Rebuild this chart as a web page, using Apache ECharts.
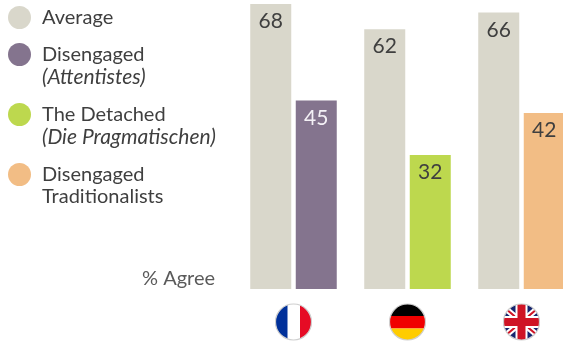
<!DOCTYPE html>
<html>
<head>
<meta charset="utf-8">
<style>html,body{margin:0;padding:0;background:#fff}#c{width:563px;height:341px}</style>
<script src="https://cdn.jsdelivr.net/npm/echarts@6/dist/echarts.min.js"></script>
</head>
<body>
<div id="c"></div>
<script>
const countries = ['France', 'Germany', 'UK'];
const average = [68, 62, 66];
const disengaged = [45, null, null];
const detached = [null, 32, null];
const traditionalists = [null, null, 42];

const FONT = 'Lato';
const INK = '#3f3f3f';
const COLORS = { average: '#d9d7cb', disengaged: '#84748e', detached: '#bdd84e', traditionalists: '#f2bd85' };

// Round flags, each wrapped in a thin grey ring
function flag(body) {
  const svg = '<svg xmlns="http://www.w3.org/2000/svg" width="38" height="38" viewBox="0 0 38 38">' +
    '<defs><clipPath id="k"><circle cx="19" cy="19" r="18"/></clipPath></defs>' +
    '<g clip-path="url(#k)">' + body + '</g>' +
    '<circle cx="19" cy="19" r="18" fill="none" stroke="#cfcfcf" stroke-width="1.2"/></svg>';
  return 'data:image/svg+xml;charset=utf-8,' + encodeURIComponent(svg);
}
const flagImages = {
  France: flag('<rect width="38" height="38" fill="#fff"/><rect width="13" height="38" fill="#00309a"/><rect x="25.5" width="12.5" height="38" fill="#e60b25"/>'),
  Germany: flag('<rect width="38" height="13" fill="#000"/><rect y="13" width="38" height="12.5" fill="#f00000"/><rect y="25.5" width="38" height="12.5" fill="#ffcc00"/>'),
  UK: flag('<rect width="38" height="38" fill="#16256e"/>' +
    '<path d="M0 3 L38 35 M38 3 L0 35" stroke="#fff" stroke-width="6"/>' +
    '<path d="M0 3 L38 35 M38 3 L0 35" stroke="#cf1425" stroke-width="2"/>' +
    '<rect x="13" width="12" height="38" fill="#fff"/><rect y="13" width="38" height="12" fill="#fff"/>' +
    '<rect x="15" width="8" height="38" fill="#cf1425"/><rect y="15" width="38" height="8" fill="#cf1425"/>')
};

const seriesNames = ['Average', 'Disengaged (Attentistes)', 'The Detached (Die Pragmatischen)', 'Disengaged Traditionalists'];
const legendLines = {
  'Average': ['Average', null],
  'Disengaged (Attentistes)': ['Disengaged', '(Attentistes)'],
  'The Detached (Die Pragmatischen)': ['The Detached', '(Die Pragmatischen)'],
  'Disengaged Traditionalists': ['Disengaged', 'Traditionalists']
};
const legendTops = [6, 43, 103, 163];
const secondLineCentres = [null, 77, 137, 197];

const legends = seriesNames.map((name, i) => ({
  data: [name], orient: 'vertical', left: 8, top: legendTops[i], padding: 0,
  icon: 'circle', itemWidth: 23, itemHeight: 23, selectedMode: false,
  formatter: n => legendLines[n][0],
  textStyle: { fontFamily: FONT, fontSize: 20, color: INK, padding: [0, 0, 0, 6] }
}));

const secondLines = seriesNames.map((name, i) => {
  const line = legendLines[name][1];
  if (!line) return null;
  const italic = line.startsWith('(');
  return {
    type: 'text', left: 42, top: secondLineCentres[i] - 12,
    style: { text: line, fontFamily: FONT, fontSize: italic ? 21 : 20, lineHeight: 24, fill: INK,
             fontStyle: italic ? 'italic' : 'normal' }
  };
}).filter(Boolean);

function barSeries(name, values, color, stack, labelColor) {
  return {
    name, type: 'bar', stack, data: values, barWidth: 41, barGap: '11%',
    itemStyle: { color },
    label: { show: true, position: 'insideTop', distance: 7, fontFamily: FONT, fontSize: 21, color: labelColor }
  };
}

const richFlags = {};
Object.keys(flagImages).forEach(k => {
  richFlags[k] = { width: 38, height: 38, backgroundColor: { image: flagImages[k] } };
});

const chart = echarts.init(document.getElementById('c'), null, { renderer: 'canvas' });
chart.setOption({
  animation: false,
  backgroundColor: '#fff',
  legend: legends,
  grid: { left: 236.5, top: 4, width: 342, height: 285, outerBoundsMode: 'none' },
  xAxis: {
    type: 'category', data: countries,
    axisLine: { show: false }, axisTick: { show: false },
    axisLabel: { margin: 14, interval: 0, hideOverlap: false, formatter: v => '{' + v + '|}', rich: richFlags }
  },
  yAxis: { type: 'value', min: 0, max: 68, show: false },
  series: [
    barSeries(seriesNames[0], average, COLORS.average, 'average', INK),
    barSeries(seriesNames[1], disengaged, COLORS.disengaged, 'segment', '#f4f1f6'),
    barSeries(seriesNames[2], detached, COLORS.detached, 'segment', INK),
    barSeries(seriesNames[3], traditionalists, COLORS.traditionalists, 'segment', INK)
  ],
  graphic: secondLines.concat([{
    type: 'text', left: 142, top: 267,
    style: { text: '% Agree', fontFamily: FONT, fontSize: 20, lineHeight: 24, fill: '#5a5a5a' }
  }])
});
</script>
</body>
</html>
